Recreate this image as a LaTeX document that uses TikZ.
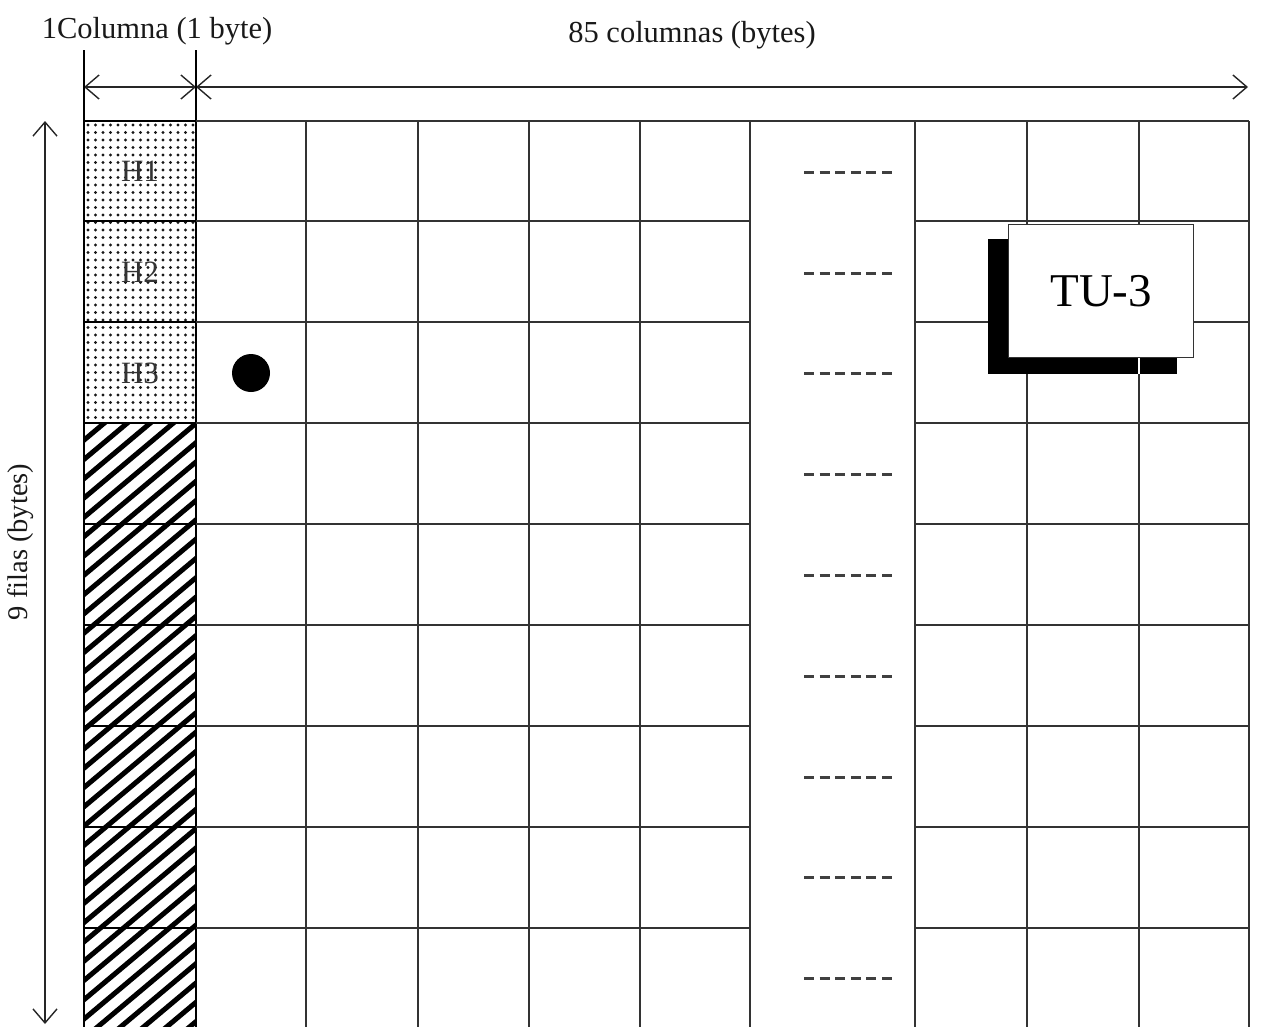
\documentclass[tikz,border=0pt]{standalone}
\usepackage{fontspec}
\setmainfont{Liberation Serif}
\usetikzlibrary{arrows.meta}
\begin{document}
\begin{tikzpicture}[x=1pt,y=-1pt,
  gridline/.style={line width=1.8pt, draw=black!80},
  colline/.style={line width=2.4pt, draw=black},
  barb/.tip={Straight Barb[length=14pt,width=24pt,line width=1.4pt]},
  dimline/.style={line width=1.4pt, draw=black!85, barb-barb},
  lbl/.style={font=\fontsize{30.5}{34}\selectfont, text=black!90, inner sep=0pt},
  vlbl/.style={font=\fontsize{28.5}{32}\selectfont, text=black!90, inner sep=0pt},
  hlbl/.style={font=\fontsize{31}{34}\selectfont, text=black!80, inner sep=0pt},
  dashrow/.style={line width=3pt, draw=black!75, dash pattern=on 10pt off 5.6pt}
]
\useasboundingbox (0,0) rectangle (1277,1026);

% ---- dimension labels
\node[lbl] (lblcol) at (157,31) {1Columna (1 byte)};
\node[lbl] (lbl85) at (692,35) {85 columnas (bytes)};
\node[vlbl, rotate=90] (lblfilas) at (21,542) {9 filas (bytes)};

% ---- dimension arrows
\coordinate (cA) at (84,87);
\coordinate (cB) at (196,87);
\coordinate (cC) at (1248,87);
\coordinate (vT) at (45,121);
\coordinate (vB) at (45,1024);
\draw[dimline] (cA) -- (cB);
\draw[dimline] (cB) -- (cC);
\draw[dimline] (vT) -- (vB);

% ---- left column: dotted header cells
\foreach \i in {0,...,14}
  \foreach \j in {0,...,39}
    \fill[black!90] ({88+\i*7.5},{125+\j*7.5}) circle (1.7);

% ---- left column: hatched cells
\begin{scope}
  \clip (84,423) rectangle (196,1030);
  \foreach \o in {-700,-677,...,200}
    \draw[line width=5pt, black] (\o,1040) -- ++(1000,-839);
\end{scope}

% ---- left column borders
\draw[colline] (84,50) -- (84,1030);
\draw[colline] (196,50) -- (196,1030);
\foreach \y in {121,221,322,423,524,625,726,827,928}
  \draw[colline] (84,\y) -- (196,\y);

% ---- main grid
\draw[gridline] (196,121) -- (1249,121);
\foreach \y in {221,322,423,524,625,726,827,928} {
  \draw[gridline] (196,\y) -- (750,\y);
  \draw[gridline] (915,\y) -- (1249,\y);
}
\foreach \x in {306,418,529,640,750,915,1027,1139,1249}
  \draw[gridline] (\x,121) -- (\x,1030);

% ---- dashes in the gap column
\foreach \y in {172,273,373,474,575,676,777,877,978}
  \draw[dashrow] (804,\y) -- (892,\y);

% ---- header labels
\node[hlbl] (h1) at (140,171) {H1};
\node[hlbl] (h2) at (140,272) {H2};
\node[hlbl] (h3) at (140,373) {H3};

% ---- dot
\node[circle, fill=black, minimum size=38pt, inner sep=0pt] (dot) at (251,373) {};

% ---- TU-3 box with shadow
\fill[black] (988,239) rectangle (1177,374);
\draw[white, line width=1.4pt] (1139,357) -- (1139,374);
\node[draw=black!80, line width=1.4pt, fill=white, minimum width=185pt,
      minimum height=133pt, inner sep=0pt, anchor=north west,
      font=\fontsize{47}{52}\selectfont] (tu3) at (1008,224) {TU-3};
\end{tikzpicture}
\end{document}
